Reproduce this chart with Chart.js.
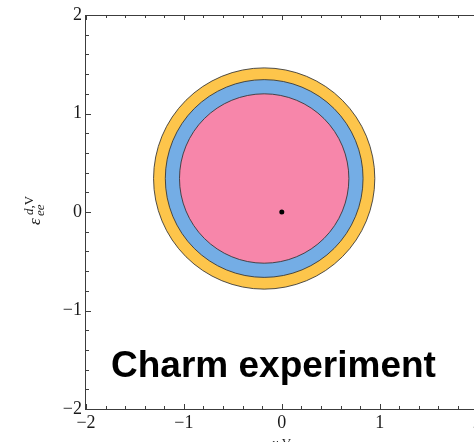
<!DOCTYPE html>
<html>
<head>
<meta charset="utf-8">
<script src="https://cdn.jsdelivr.net/npm/chart.js@4"></script>
<style>
  html, body { margin: 0; padding: 0; background: #fff; overflow: hidden; }
  #wrap { width: 490px; height: 442px; }
</style>
</head>
<body>
<div id="wrap"><canvas id="plot" width="490" height="442"></canvas></div>
<script>
// allowed regions, drawn largest first
const regionNames = ['outer', 'middle', 'inner'];
const regionRadius = [1.13, 1.01, 0.865];
const regionColors = ['#fdc54b', '#74ade5', '#f786aa'];
const centerX = -0.18;
const centerY = 0.34;
const smPoint = [0, 0];

const majorTicks = [-2, -1, 0, 1, 2];
const minorTicks = [-1.8, -1.6, -1.4, -1.2, -0.8, -0.6, -0.4, -0.2,
                    0.2, 0.4, 0.6, 0.8, 1.2, 1.4, 1.6, 1.8];
const plotTitle = 'Charm experiment';

const fmt = v => v < 0 ? '\u2212' + Math.abs(v) : String(v);

// filled discs, radius in x units, placed through the chart scales
const regions = {
    id: 'regions',
    beforeDatasetsDraw(chart) {
        const { ctx, scales: { x, y } } = chart;
        const cx = x.getPixelForValue(centerX);
        const cy = y.getPixelForValue(centerY);
        ctx.save();
        ctx.lineWidth = 1;
        ctx.strokeStyle = 'rgba(50,50,50,0.85)';
        regionRadius.forEach((r, i) => {
            const rp = x.getPixelForValue(centerX + r) - cx;
            ctx.beginPath();
            ctx.arc(cx, cy, rp, 0, Math.PI * 2);
            ctx.fillStyle = regionColors[i];
            ctx.fill();
            ctx.stroke();
        });
        ctx.restore();
    }
};

// Mathematica-style frame with inward ticks
const frame = {
    id: 'frame',
    afterDraw(chart) {
        const { ctx, chartArea: a, scales: { x, y } } = chart;
        ctx.save();
        ctx.strokeStyle = '#3c3c3c';
        ctx.lineWidth = 1;
        ctx.strokeRect(Math.round(a.left) - 0.5, Math.round(a.top) + 0.5,
                       a.right - a.left + 10, a.bottom - a.top);
        const mark = (vals, len) => {
            ctx.beginPath();
            vals.forEach(v => {
                const px = Math.round(x.getPixelForValue(v)) + 0.5;
                ctx.moveTo(px, a.bottom); ctx.lineTo(px, a.bottom - len);
                ctx.moveTo(px, a.top); ctx.lineTo(px, a.top + len);
                const py = Math.round(y.getPixelForValue(v)) + 0.5;
                ctx.moveTo(a.left, py); ctx.lineTo(a.left + len, py);
            });
            ctx.stroke();
        };
        mark(majorTicks, 5);
        mark(minorTicks, 3);
        ctx.restore();
    }
};

// axis symbols and the big label
const labels = {
    id: 'labels',
    afterDraw(chart) {
        const { ctx } = chart;
        ctx.save();
        ctx.fillStyle = '#000';
        ctx.textBaseline = 'alphabetic';
        ctx.font = 'bold 37px "Liberation Sans", Arial, sans-serif';
        ctx.fillText(plotTitle, 111, 377);

        ctx.fillStyle = '#222';
        // vertical axis: epsilon^{d,V}_{ee}
        ctx.save();
        ctx.translate(39.5, 225);
        ctx.rotate(-Math.PI / 2);
        ctx.font = 'italic 17px "Liberation Serif", serif';
        ctx.fillText('\u03b5', 0, 0);
        ctx.font = 'italic 13px "Liberation Serif", serif';
        ctx.fillText('d,', 10, -6.5);
        ctx.font = '13px "Liberation Serif", serif';
        ctx.fillText('V', 10 + ctx.measureText('d,').width, -6.5);
        ctx.font = 'italic 13px "Liberation Serif", serif';
        ctx.fillText('ee', 9, 4.5);
        ctx.restore();

        // horizontal axis: epsilon^{u,V}_{ee}
        ctx.font = 'italic 17px "Liberation Serif", serif';
        ctx.fillText('\u03b5', 262, 453);
        ctx.font = 'italic 13px "Liberation Serif", serif';
        ctx.fillText('u,', 272, 447);
        ctx.font = '13px "Liberation Serif", serif';
        ctx.fillText('V', 272 + ctx.measureText('u,').width, 447);
        ctx.restore();
    }
};

const tickFont = { family: '"Liberation Serif", serif', size: 18 };

new Chart(document.getElementById('plot'), {
    type: 'scatter',
    data: {
        datasets: [{
            label: 'SM',
            data: [{ x: smPoint[0], y: smPoint[1] }],
            backgroundColor: '#000',
            borderWidth: 0,
            pointRadius: 2.5,
            pointHoverRadius: 2.5
        }]
    },
    options: {
        responsive: false,
        animation: false,
        events: [],
        layout: { padding: { top: 15, right: 12.4, left: 0, bottom: 0 } },
        plugins: { legend: { display: false }, tooltip: { enabled: false } },
        scales: {
            x: {
                type: 'linear', min: -2, max: 2,
                afterBuildTicks: s => { s.ticks = majorTicks.map(v => ({ value: v })); },
                afterFit: s => { s.height = 33; },
                grid: { display: false, drawTicks: false },
                border: { display: false },
                ticks: { autoSkip: false, maxRotation: 0, padding: 3, color: '#1a1a1a',
                         font: tickFont, callback: v => fmt(v) }
            },
            y: {
                type: 'linear', min: -2, max: 2,
                afterBuildTicks: s => { s.ticks = majorTicks.map(v => ({ value: v })); },
                afterFit: s => { s.width = 86; },
                grid: { display: false, drawTicks: false },
                border: { display: false },
                ticks: { padding: 4, color: '#1a1a1a', font: tickFont, callback: v => fmt(v) }
            }
        }
    },
    plugins: [regions, frame, labels]
});
</script>
</body>
</html>
